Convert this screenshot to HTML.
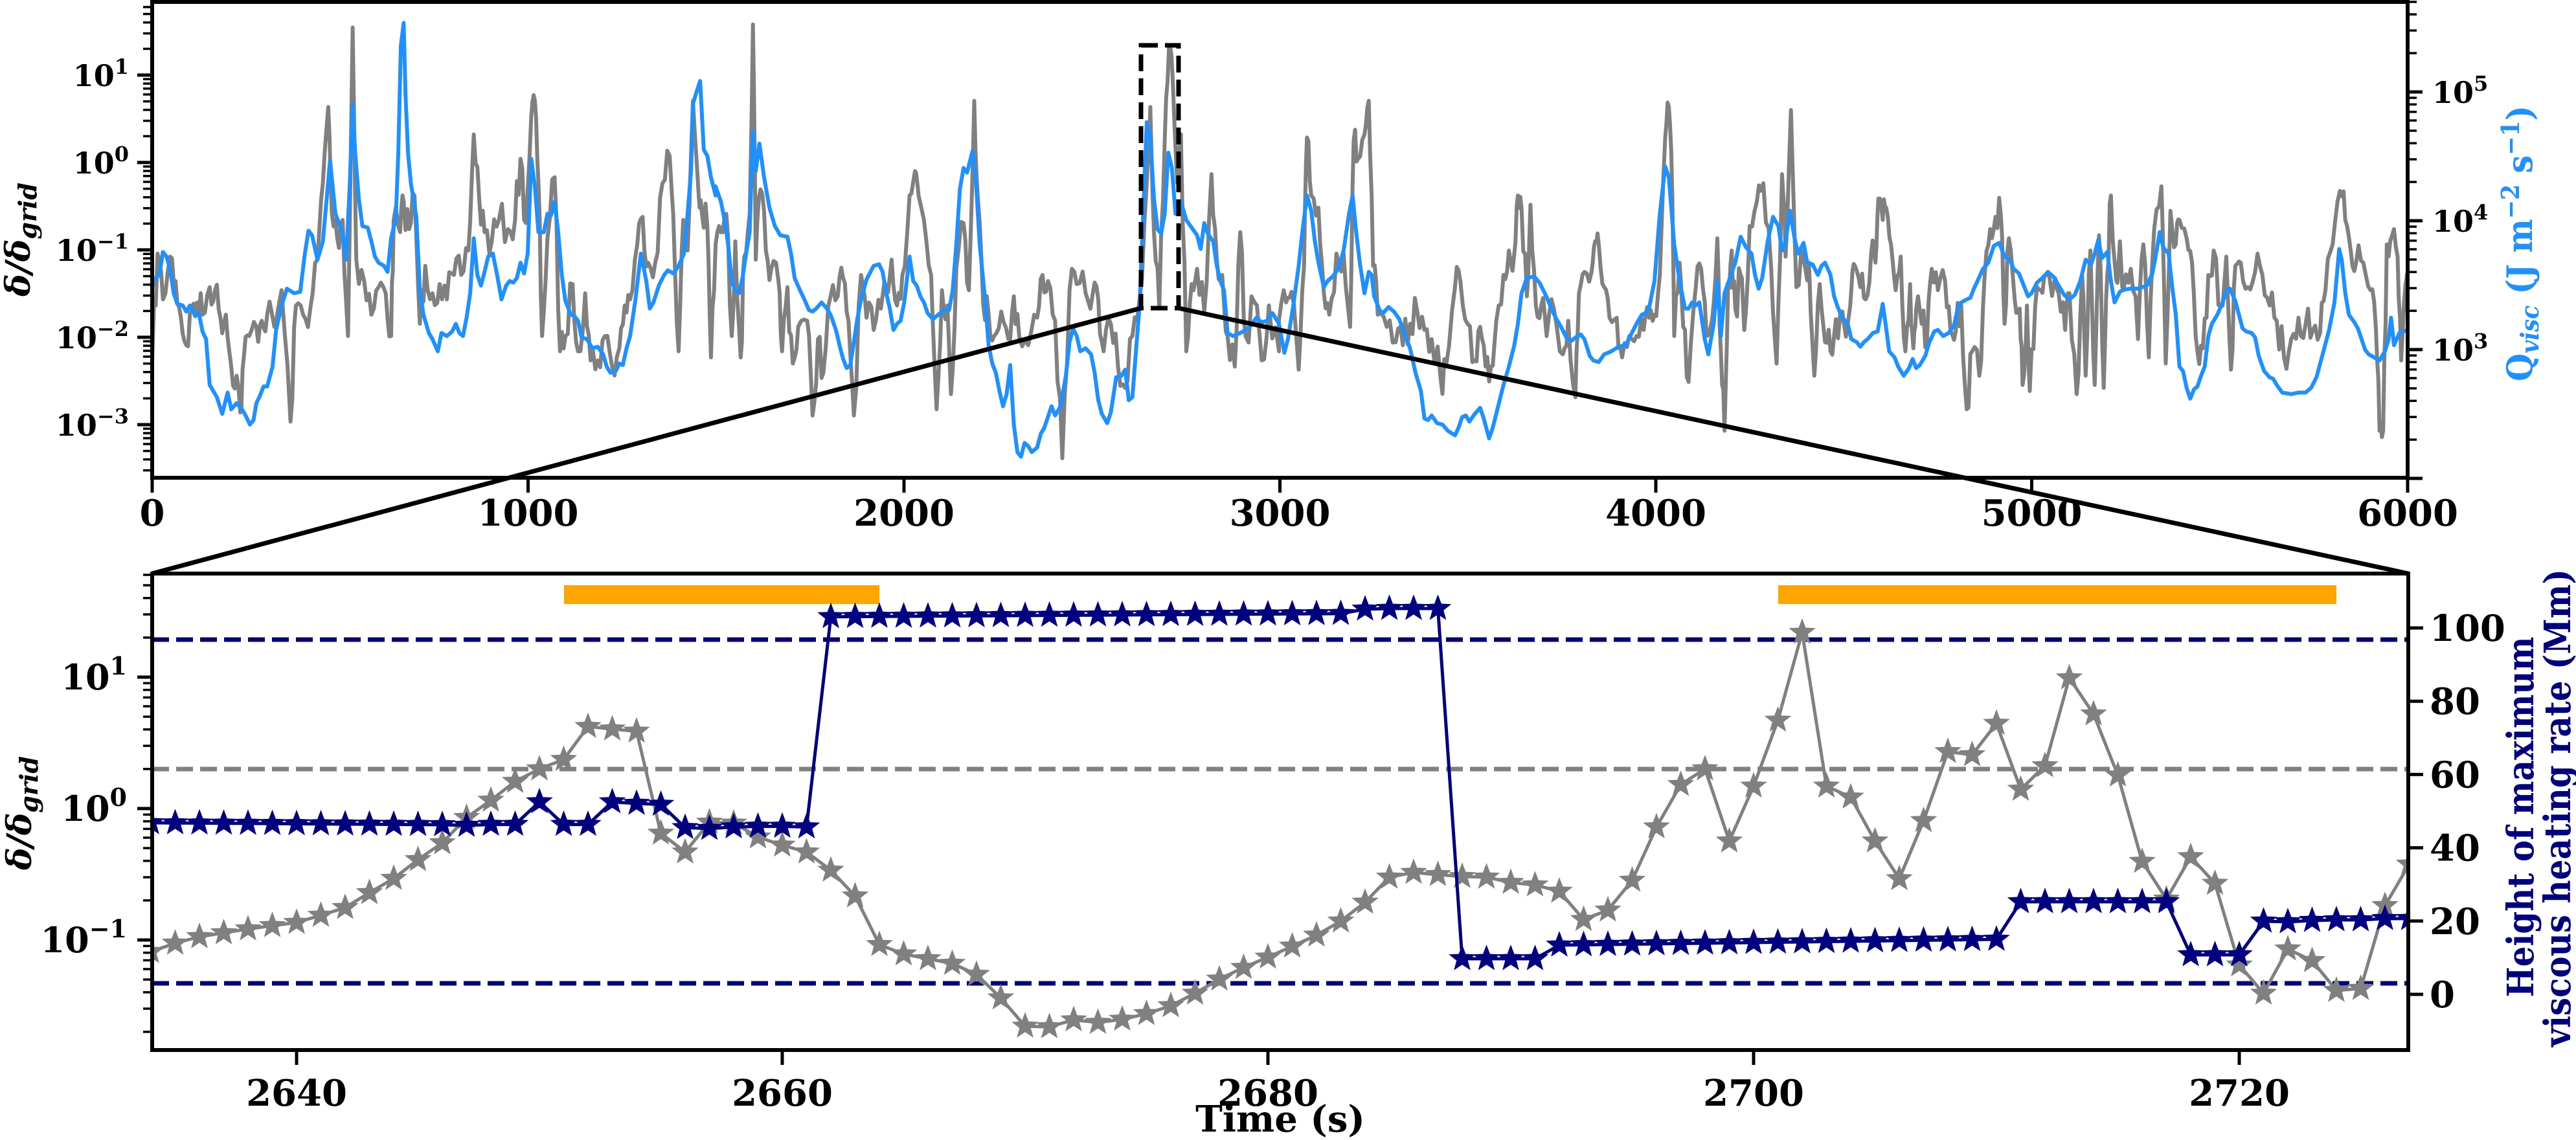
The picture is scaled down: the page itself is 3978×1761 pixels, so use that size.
<!DOCTYPE html>
<html><head><meta charset="utf-8">
<style>
html,body{margin:0;padding:0;background:#fff;}
svg{display:block;}
.tk{font-family:"DejaVu Serif","Liberation Serif",serif;font-weight:bold;font-size:56px;}
.mt{font-family:"DejaVu Serif","Liberation Serif",serif;font-weight:bold;}
</style></head>
<body>
<svg id="s" xmlns="http://www.w3.org/2000/svg" width="3978" height="1761" viewBox="0 0 3978 1761">
<defs>
<clipPath id="c1"><rect x="235" y="3" width="3483" height="735"/></clipPath>
<clipPath id="c2"><rect x="235" y="886" width="3484" height="736"/></clipPath>
</defs>
<g id="g"></g>
</svg>
<script>
(function(){
var NS="http://www.w3.org/2000/svg",G=document.getElementById("g"),out=[];
function add(s){out.push(s);}
var P=[[235,0.5549],[1105,0.5549],[1975,0.5549],[2845,0.5568]],YF=0.4719;
var B=[
[0,940,5,915,20,900,30,825,40,840,50,880,60,960,70,995,85,1000,95,1020,105,1000,120,1035,130,1025,140,1085,150,1110,160,1260,180,1300,195,1355,210,1285,220,1340,235,1320,250,1340,260,1360,272,1390,282,1375,290,1320,300,1295,310,1265,320,1265,335,1200,345,1080,360,1000,375,945,395,960,412,955,425,830,435,755,445,770,460,850,475,790,485,660,495,525,510,700,520,730,530,770,540,850,550,600,558,340,565,500,575,650,585,740,600,745,610,790,620,840,630,860,645,870,655,890,665,780,678,715,685,500,692,150,700,75,705,310,712,500,720,600,735,710,745,950,755,1030,770,1090,780,1110,795,1150,805,1090,820,1100,835,1085,845,1060,855,1090,865,1100,875,1040,885,960,895,780,905,900,915,935,925,890,935,840,948,830,960,900,972,980,985,935,995,920,1005,925,1015,910,1025,860,1035,895,1045,830,1055,520,1065,610,1075,760,1090,760,1100,700,1110,705,1120,660,1130,760,1140,900,1150,985,1165,1030,1175,1035,1185,1050,1195,1105,1210,1110,1225,1140,1240,1135,1255,1160,1265,1200,1275,1220,1290,1215,1300,1190,1310,1195,1320,1140,1330,1100,1345,980,1360,830,1375,920,1385,1010,1395,990,1410,935,1425,900,1435,885,1450,895,1465,870,1480,830,1490,700,1500,555,1505,340,1515,300,1525,265,1535,490,1545,510,1555,580,1568,640],
[0,610,15,660,25,720,35,800,45,920,55,950,65,960,75,910,85,830,95,760,104,430,112,560,122,470,135,580,150,680,165,740,180,770,200,775,210,830,220,910,235,950,245,975,260,1015,270,1020,280,1010,295,990,310,1010,320,1030,335,1080,345,1130,355,1175,365,1205,375,1195,385,1120,395,1040,405,980,420,915,440,870,455,865,465,890,475,960,485,1010,495,1080,505,1060,515,1050,525,990,540,840,550,920,560,935,570,970,580,990,590,1025,605,1045,620,1030,635,1015,650,1015,660,950,670,800,680,620,690,550,700,565,715,495,725,600,735,800,750,980,760,1130,770,1190,780,1220,790,1280,800,1330,810,1290,820,1195,830,1390,840,1480,850,1495,860,1450,870,1460,880,1480,895,1465,905,1420,915,1400,925,1365,935,1330,945,1360,960,1330,975,1230,985,1120,995,1075,1005,1100,1015,1150,1030,1140,1045,1160,1055,1220,1065,1310,1075,1355,1090,1385,1100,1350,1115,1235,1130,1230,1140,1210,1150,1310,1160,1300,1170,1150,1180,1000,1190,700,1200,400,1210,450,1220,650,1230,750,1240,765,1250,700,1260,500,1270,550,1280,700,1295,660,1310,720,1325,745,1340,770,1350,815,1360,730,1370,765,1385,790,1395,870,1405,920,1415,950,1425,1090,1440,1100,1460,1090,1475,1080,1490,1065,1505,1040,1520,1055,1535,1050,1550,1025,1568,1060],
[0,1060,15,1155,25,1110,40,1000,55,870,65,760,78,640,90,690,100,790,110,860,125,940,135,920,150,905,165,880,180,820,195,700,205,640,215,760,225,860,238,960,250,890,258,900,265,970,280,1015,290,1025,305,1005,320,1020,335,1045,350,1095,365,1140,380,1220,395,1280,405,1370,415,1375,425,1360,440,1385,455,1390,470,1410,490,1425,500,1400,510,1365,520,1360,530,1380,545,1355,560,1335,570,1370,585,1435,595,1400,610,1330,625,1260,640,1200,655,1130,665,1060,675,960,690,910,710,905,725,925,740,960,755,1000,770,1040,785,1070,800,1105,815,1115,825,1105,840,1095,850,1110,865,1165,875,1180,890,1185,905,1160,925,1150,945,1135,965,1130,980,1095,995,1060,1010,1030,1020,1025,1030,1010,1045,920,1060,700,1075,545,1085,580,1100,800,1115,920,1130,1010,1140,1010,1150,990,1160,1000,1170,990,1185,1110,1195,1160,1210,1060,1220,920,1230,1100,1240,960,1255,910,1270,860,1285,775,1300,810,1315,830,1325,900,1335,945,1345,910,1360,790,1375,710,1390,740,1400,820,1410,790,1422,690,1435,780,1445,830,1460,795,1470,860,1485,865,1500,900,1510,870,1520,860,1535,900,1545,970,1555,1005,1568,1040],
[0,1040,15,1060,25,1110,40,1120,50,1135,60,1120,70,1110,85,1090,98,1085,105,1040,112,995,120,1060,130,1150,145,1170,155,1200,170,1230,185,1205,195,1175,205,1205,215,1195,230,1165,240,1125,255,1085,265,1080,280,1100,295,1090,310,1065,320,1010,330,990,345,980,355,975,365,945,375,920,390,880,405,860,420,805,435,795,450,840,465,850,475,880,490,895,505,940,515,970,525,960,540,925,555,910,570,890,585,905,600,935,615,965,630,980,645,965,660,920,675,850,690,865,700,830,710,785,720,845,735,825,745,920,755,990,770,955,780,948,800,945,820,945,845,935,860,895,872,820,880,760,890,810,905,830,915,940,925,1030,935,1200,945,1215,955,1270,965,1305,975,1275,985,1265,995,1230,1005,1200,1015,1100,1025,1060,1040,1030,1055,990,1065,950,1075,945,1090,985,1100,1030,1110,1075,1120,1085,1135,1090,1145,1105,1155,1165,1170,1215,1185,1235,1195,1240,1205,1260,1220,1285,1245,1290,1265,1285,1285,1285,1300,1270,1315,1235,1330,1170,1350,1080,1365,990,1378,815,1385,850,1395,960,1405,1030,1420,1055,1430,1075,1440,1110,1450,1145,1460,1160,1475,1170,1490,1180,1505,1150,1515,1110,1522,1040,1530,1130,1545,1090,1568,1080]];
var Gr=[
[0,1180,15,830,30,980,50,840,65,920,80,1040,95,1130,110,1020,125,990,140,1030,160,940,175,950,190,1040,205,1030,220,1200,235,1230,245,1350,255,1170,270,1100,290,1070,305,1050,320,1030,340,1070,360,950,385,1380,400,1000,420,1030,440,1010,460,850,475,600,490,350,500,700,515,780,530,720,545,1100,558,90,568,850,590,920,610,1030,630,940,650,960,665,1100,672,720,690,760,700,660,715,750,730,640,745,1060,760,870,780,960,800,930,820,980,840,900,860,900,880,820,895,440,910,650,925,760,945,790,965,720,990,750,1010,720,1025,520,1040,730,1055,380,1065,330,1075,600,1085,1100,1100,780,1120,580,1135,1150,1150,1100,1170,930,1185,1150,1205,960,1220,1180,1240,1180,1260,1100,1280,1200,1300,1140,1315,1000,1330,980,1350,800,1365,710,1380,860,1400,860,1420,600,1440,510,1450,700,1465,1150,1478,720,1490,820,1505,330,1520,620,1530,700,1545,740,1555,1170,1568,800],
[0,800,15,760,30,700,45,1100,55,790,70,1170,80,840,95,700,104,80,112,850,125,620,140,820,155,880,175,920,185,1150,200,940,215,1190,230,1070,255,1050,270,1360,285,1110,300,1220,320,970,340,970,355,910,370,1050,385,1360,405,900,420,1040,440,1080,460,1010,490,850,505,1000,520,900,540,640,555,560,565,640,580,720,600,900,615,1340,630,950,645,1000,655,1290,670,880,690,730,705,950,720,330,730,650,745,1000,760,1030,775,1100,795,1020,815,1110,830,970,845,1100,870,1130,895,1040,910,900,925,920,945,1050,965,1500,985,950,1005,930,1030,960,1050,960,1065,980,1080,1150,1100,1060,1120,1200,1140,1270,1160,1100,1180,980,1200,600,1210,350,1220,760,1235,1010,1250,460,1262,150,1272,250,1285,600,1295,440,1310,1150,1325,930,1340,880,1360,1020,1380,570,1395,850,1410,900,1425,1100,1445,1200,1460,760,1475,1100,1500,990,1520,1180,1540,1000,1568,1150],
[0,1050,20,990,35,955,55,1210,70,870,78,450,90,640,110,680,125,960,140,1030,160,830,180,830,198,1070,208,460,220,520,238,440,250,330,262,870,275,1030,300,1070,325,1120,345,1130,365,1060,385,1020,405,1080,425,1110,450,1240,465,1200,490,940,505,920,525,1060,545,1180,560,1070,575,1200,590,1200,605,1050,625,900,640,820,655,830,665,640,675,680,690,970,700,670,715,1000,730,1000,745,1100,765,1010,790,1160,805,1050,825,1300,835,960,850,890,870,890,880,790,890,800,905,940,920,1040,940,1040,955,1170,975,1100,995,1100,1015,1080,1030,1040,1045,1030,1060,900,1075,450,1085,350,1095,650,1100,1100,1115,860,1125,1070,1140,1250,1160,940,1175,880,1190,1100,1205,1050,1220,780,1230,1150,1240,1410,1250,930,1260,820,1270,1010,1285,900,1295,1080,1310,740,1330,660,1348,600,1370,880,1385,1190,1400,570,1410,840,1425,360,1440,940,1460,850,1475,860,1490,1230,1505,930,1520,1120,1535,1150,1550,1045,1568,1050],
[0,1020,15,1060,25,950,35,870,50,940,65,980,80,830,92,860,100,650,112,720,122,680,135,800,148,950,162,840,175,1150,188,930,197,1140,205,1010,220,1060,235,1110,248,880,265,950,285,920,300,1080,315,1080,330,1000,345,1340,360,1150,380,1230,395,900,410,750,425,710,440,710,450,1060,462,780,478,980,492,1010,500,1260,512,1000,520,1280,535,1000,550,950,565,900,590,910,600,960,618,1080,630,960,650,1290,665,900,675,1230,688,820,700,1260,712,770,725,1270,735,900,745,640,760,920,770,790,780,950,800,880,820,1110,835,800,850,1170,865,750,885,610,897,1190,910,690,925,800,935,720,955,780,970,860,985,1150,1000,1140,1015,900,1030,820,1050,1000,1065,840,1078,1210,1090,870,1105,860,1125,940,1145,890,1165,900,1185,1000,1205,1050,1225,1170,1245,1110,1265,1040,1285,1060,1305,1080,1325,1090,1340,950,1360,800,1380,625,1395,720,1410,820,1425,860,1445,860,1465,950,1480,1080,1490,1410,1500,1410,1510,800,1525,770,1540,840,1550,1180,1562,930,1568,940]];
var seed=7;function rnd(){seed=(seed*16807)%2147483647;return seed/2147483647;}
function topPath(arrs,jit){var d="";for(var p=0;p<4;p++){var a=arrs[p],o=P[p][0],f=P[p][1];
 for(var i=0;i<a.length;i+=2){var x=o+a[i]*f,y=a[i+1]*YF;
  if(jit&&i>0){var px=o+a[i-2]*f,py=a[i-1]*YF;for(var k=1;k<3;k++){var tt=k/3;d+="L"+(px+(x-px)*tt).toFixed(1)+","+(py+(y-py)*tt+(rnd()-0.5)*60).toFixed(1);}}
  d+=(d?"L":"M")+x.toFixed(1)+","+y.toFixed(1);}}return d;}
add('<g clip-path="url(#c1)"><path d="'+topPath(Gr,true)+'" fill="none" stroke="#808080" stroke-width="6" stroke-linejoin="round"/>');
add('<path d="'+topPath(B,false)+'" fill="none" stroke="#1e90ff" stroke-width="6" stroke-linejoin="round"/></g>');
add('<rect x="1762" y="70" width="58" height="406" fill="none" stroke="#000" stroke-width="7" stroke-dasharray="26,11"/>');
add('<line x1="1762" y1="476" x2="235" y2="886" stroke="#000" stroke-width="7"/>');
add('<line x1="1820" y1="476" x2="3719" y2="886" stroke="#000" stroke-width="7"/>');
add('<rect x="235" y="3" width="3483" height="735" fill="none" stroke="#000" stroke-width="6"/>');
var L10=Math.log10||function(v){return Math.log(v)/Math.LN10;};
function logTicks(x,dir,y0,k,lo,hi,ymin,ymax){var s="";for(var d=lo;d<=hi;d++){for(var m=1;m<10;m++){var y=y0-k*(d+L10(m));if(y<ymin-1||y>ymax+1)continue;var len=m==1?20:11,w=m==1?5:3.5;s+='<line x1="'+x+'" y1="'+y.toFixed(1)+'" x2="'+(x+dir*len)+'" y2="'+y.toFixed(1)+'" stroke="#000" stroke-width="'+w+'"/>';}}return s;}
add(logTicks(232,-1,251,135,-4,2,3,738));
add(logTicks(3721,1,341+4*199,199,2,5,3,738));
function sup(base,e,x,y,anchor,fs){return '<text class="mt" x="'+x+'" y="'+y+'" text-anchor="'+anchor+'" font-size="'+fs+'">'+base+'<tspan font-size="'+Math.round(fs*0.7)+'" dy="-'+Math.round(fs*0.42)+'">'+e+'</tspan></text>';}
var lt=[[1,"1"],[0,"0"],[-1,"−1"],[-2,"−2"],[-3,"−3"]];
for(var i=0;i<lt.length;i++){add(sup("10",lt[i][1],199,251-135*lt[i][0]+17,"end",46));}
var rt=[[5,"5"],[4,"4"],[3,"3"]];
for(i=0;i<rt.length;i++){add(sup("10",rt[i][1],3756,341-199*(rt[i][0]-4)+17,"start",46));}
for(var t=0;t<=6000;t+=1000){var x=235+t*3483/6000;add('<line x1="'+x+'" y1="741" x2="'+x+'" y2="761" stroke="#000" stroke-width="5"/>');add('<text class="tk" x="'+x+'" y="812" text-anchor="middle">'+t+'</text>');}
add('<text class="mt" font-style="italic" font-size="52" transform="translate(46,370) rotate(-90)" text-anchor="middle">δ/δ<tspan font-size="38" dy="10">grid</tspan></text>');
add('<text class="mt" font-size="54" fill="#1e90ff" transform="translate(3910,376) rotate(-90)" text-anchor="middle" textLength="426" lengthAdjust="spacingAndGlyphs">Q<tspan font-size="38" font-style="italic" dy="10">visc</tspan><tspan dy="-10"> (J m</tspan><tspan font-size="38" dy="-20">−2</tspan><tspan dy="20"> s</tspan><tspan font-size="38" dy="-20">−1</tspan><tspan dy="20">)</tspan></text>');
function bx(t){return 458+(t-2640)*37.5;}
var gy=[1470,1457,1447,1441,1435,1430,1425,1414,1402,1379,1357,1328,1302];
var z9=[790,735,675,635,605,500,508,515,840,900,805,808,852,878,900,958,1040,1195,1225,1240,1255,1290,1365,1455,1457,1435,1443,1433,1415,1390,1350,1305,1268,1235,1200,1165,1120,
1060,980,965,972,978,980,997,1005,1025,1115,1085,990,820,685,635,865,690,480,200,690,725,865,985,800,580,590,490,700,625,345,460,655,930,1050,915,1000,1260,1350];
for(i=0;i<z9.length;i++)gy.push(880+z9[i]*0.4847);
gy=gy.concat([1466,1484,1530,1527,1399,1335]);
var nz=[815,812,812,740,812,812,740,745,748,822,825,820,818,818,820];
var ny=[];for(i=0;i<13;i++)ny.push(1271+i*0.25);
for(i=0;i<nz.length;i++)ny.push(880+nz[i]*0.4847);
for(i=2662;i<=2683;i++)ny.push(880+(150-(i-2662)*10/21)*0.4847);
ny=ny.concat([941,940,940,940,1481,1481,1481,1481]);
for(i=2692;i<=2710;i++)ny.push(1460-(i-2692)*9/18);
for(i=2711;i<=2717;i++)ny.push(1393);
ny=ny.concat([1475,1475,1475,1423,1424,1422,1421,1421,1419,1419]);
function star(x,y,R){var r=R*0.42,s="";for(var k=0;k<10;k++){var a=-Math.PI/2+k*Math.PI/5,rr=k%2?r:R;s+=(k?"L":"M")+(x+rr*Math.cos(a)).toFixed(1)+","+(y+rr*Math.sin(a)).toFixed(1);}return s+"Z";}
function series(ys,col,lw){var d="",st="";for(var k=0;k<ys.length;k++){var x=bx(2634+k);d+=(k?"L":"M")+x.toFixed(1)+","+ys[k].toFixed(1);st+=star(x,ys[k],19);}
 return '<path d="'+d+'" fill="none" stroke="'+col+'" stroke-width="'+lw+'" stroke-linejoin="round"/><path d="'+st+'" fill="'+col+'" stroke="'+col+'" stroke-width="2"/>';}
add('<g clip-path="url(#c2)">');
add('<line x1="235" x2="3719" y1="988" y2="988" stroke="#000080" stroke-width="7" stroke-dasharray="26,11"/>');
add('<line x1="235" x2="3719" y1="1519" y2="1519" stroke="#000080" stroke-width="7" stroke-dasharray="26,11"/>');
add('<line x1="235" x2="3719" y1="1188" y2="1188" stroke="#808080" stroke-width="7" stroke-dasharray="26,11"/>');
add('<rect x="871" y="904" width="487" height="29" fill="#ffa500"/>');
add('<rect x="2746" y="904" width="862" height="29" fill="#ffa500"/>');
add(series(gy,"#808080",5));
add(series(ny,"#000080",5));
add('</g>');
add('<rect x="235" y="886" width="3484" height="736" fill="none" stroke="#000" stroke-width="6"/>');
add(logTicks(232,-1,1249,203,-2,1,886,1622));
var bl=[[1,"1"],[0,"0"],[-1,"−1"]];
for(i=0;i<bl.length;i++){add(sup("10",bl[i][1],196,1249-203*bl[i][0]+19,"end",54));}
for(var h=0;h<=100;h+=20){var y=1536-5.66*h;add('<line x1="3722" y1="'+y+'" x2="3742" y2="'+y+'" stroke="#000" stroke-width="5"/>');add('<text class="tk" x="3752" y="'+(y+20)+'">'+h+'</text>');}
for(t=2640;t<=2720;t+=20){var x2=bx(t);add('<line x1="'+x2+'" y1="1625" x2="'+x2+'" y2="1645" stroke="#000" stroke-width="5"/>');add('<text class="tk" x="'+x2+'" y="1708" text-anchor="middle">'+t+'</text>');}
add('<text class="tk" x="1977" y="1748" text-anchor="middle" font-size="50">Time (s)</text>');
add('<text class="mt" font-style="italic" font-size="52" transform="translate(48,1256) rotate(-90)" text-anchor="middle">δ/δ<tspan font-size="38" dy="10">grid</tspan></text>');
add('<text class="tk" font-size="56" fill="#000080" transform="translate(3912,1262) rotate(-90)" text-anchor="middle" textLength="557" lengthAdjust="spacingAndGlyphs">Height of maximum</text>');
add('<text class="tk" font-size="56" fill="#000080" transform="translate(3969,1248) rotate(-90)" text-anchor="middle" textLength="738" lengthAdjust="spacingAndGlyphs">viscous heating rate (Mm)</text>');
G.innerHTML=out.join("");
})();
</script>
</body></html>
